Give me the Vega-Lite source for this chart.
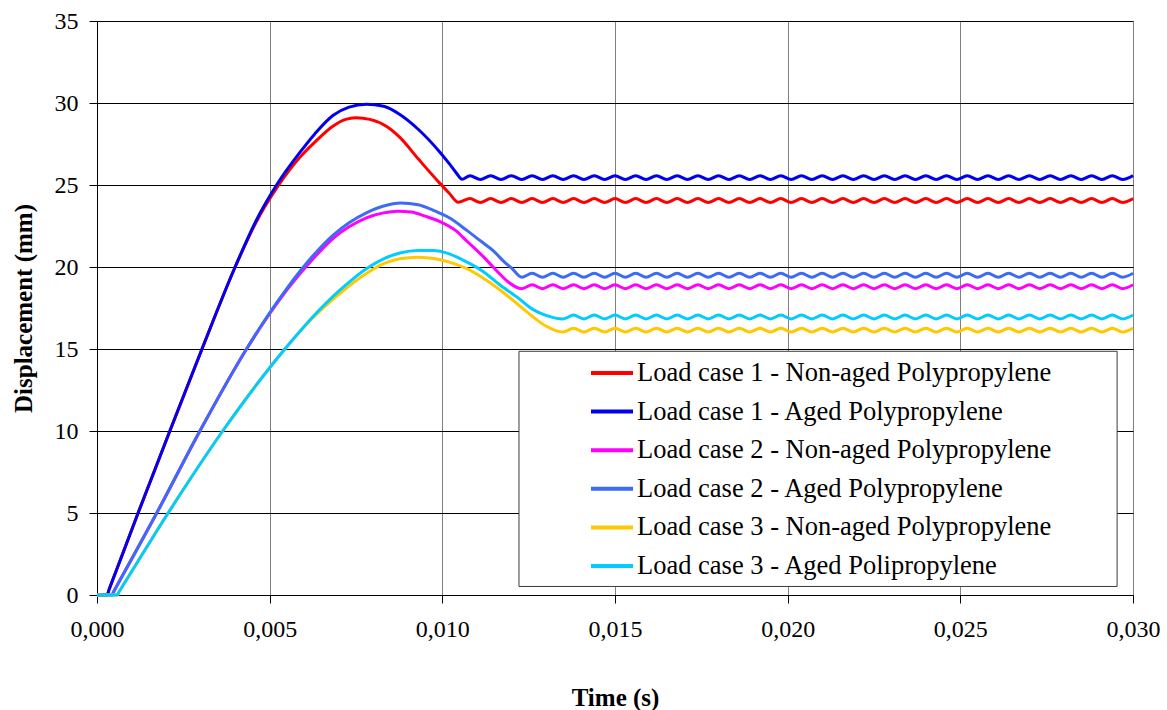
{
"$schema": "https://vega.github.io/schema/vega-lite/v6.json",
"width": 1036,
"height": 574,
"autosize": {"type": "none"},
"padding": {"left": 97, "top": 21, "right": 34, "bottom": 115},
"background": "white",
"config": {"view": {"stroke": null}, "font": "Liberation Serif"},
"layer": [
{
"data": {"values": [
{"s":"1N","t":0,"d":0},{"s":"1N","t":0.00029,"d":0},{"s":"1N","t":0.00035,"d":0.33},{"s":"1N","t":0.00119,"d":5},{"s":"1N","t":0.00211,"d":10},{"s":"1N","t":0.00304,"d":15},{"s":"1N","t":0.004,"d":20},{"s":"1N","t":0.0046,"d":22.7},{"s":"1N","t":0.0052,"d":24.8},{"s":"1N","t":0.00588,"d":26.7},{"s":"1N","t":0.0063,"d":27.6},{"s":"1N","t":0.00684,"d":28.6},{"s":"1N","t":0.0072,"d":29.0},{"s":"1N","t":0.0075,"d":29.1},{"s":"1N","t":0.0079,"d":29.0},{"s":"1N","t":0.0084,"d":28.55},{"s":"1N","t":0.00877,"d":27.9},{"s":"1N","t":0.0093,"d":26.6},{"s":"1N","t":0.00993,"d":25.1},{"s":"1N","t":0.0102,"d":24.5},{"s":"1N","t":0.01046,"d":23.95},
{"s":"1N","t":0.0108,"d":24.17},{"s":"1N","t":0.0111,"d":23.93},{"s":"1N","t":0.0114,"d":24.17},{"s":"1N","t":0.0117,"d":23.93},{"s":"1N","t":0.012,"d":24.17},{"s":"1N","t":0.0123,"d":23.93},{"s":"1N","t":0.0126,"d":24.17},{"s":"1N","t":0.0129,"d":23.93},{"s":"1N","t":0.0132,"d":24.17},{"s":"1N","t":0.0135,"d":23.93},{"s":"1N","t":0.0138,"d":24.17},{"s":"1N","t":0.0141,"d":23.93},{"s":"1N","t":0.0144,"d":24.17},{"s":"1N","t":0.0147,"d":23.93},{"s":"1N","t":0.015,"d":24.17},{"s":"1N","t":0.0153,"d":23.93},{"s":"1N","t":0.0156,"d":24.17},{"s":"1N","t":0.0159,"d":23.93},{"s":"1N","t":0.0162,"d":24.17},{"s":"1N","t":0.0165,"d":23.93},{"s":"1N","t":0.0168,"d":24.17},{"s":"1N","t":0.0171,"d":23.93},{"s":"1N","t":0.0174,"d":24.17},{"s":"1N","t":0.0177,"d":23.93},{"s":"1N","t":0.018,"d":24.17},{"s":"1N","t":0.0183,"d":23.93},{"s":"1N","t":0.0186,"d":24.17},{"s":"1N","t":0.0189,"d":23.93},{"s":"1N","t":0.0192,"d":24.17},{"s":"1N","t":0.0195,"d":23.93},{"s":"1N","t":0.0198,"d":24.17},{"s":"1N","t":0.0201,"d":23.93},{"s":"1N","t":0.0204,"d":24.17},{"s":"1N","t":0.0207,"d":23.93},{"s":"1N","t":0.021,"d":24.17},{"s":"1N","t":0.0213,"d":23.93},{"s":"1N","t":0.0216,"d":24.17},{"s":"1N","t":0.0219,"d":23.93},{"s":"1N","t":0.0222,"d":24.17},{"s":"1N","t":0.0225,"d":23.93},{"s":"1N","t":0.0228,"d":24.17},{"s":"1N","t":0.0231,"d":23.93},{"s":"1N","t":0.0234,"d":24.17},{"s":"1N","t":0.0237,"d":23.93},{"s":"1N","t":0.024,"d":24.17},{"s":"1N","t":0.0243,"d":23.93},{"s":"1N","t":0.0246,"d":24.17},{"s":"1N","t":0.0249,"d":23.93},{"s":"1N","t":0.0252,"d":24.17},{"s":"1N","t":0.0255,"d":23.93},{"s":"1N","t":0.0258,"d":24.17},{"s":"1N","t":0.0261,"d":23.93},{"s":"1N","t":0.0264,"d":24.17},{"s":"1N","t":0.0267,"d":23.93},{"s":"1N","t":0.027,"d":24.17},{"s":"1N","t":0.0273,"d":23.93},{"s":"1N","t":0.0276,"d":24.17},{"s":"1N","t":0.0279,"d":23.93},{"s":"1N","t":0.0282,"d":24.17},{"s":"1N","t":0.0285,"d":23.93},{"s":"1N","t":0.0288,"d":24.17},{"s":"1N","t":0.0291,"d":23.93},{"s":"1N","t":0.0294,"d":24.17},{"s":"1N","t":0.0297,"d":23.93},{"s":"1N","t":0.03,"d":24.17},
{"s":"1A","t":0,"d":0},{"s":"1A","t":0.00029,"d":0},{"s":"1A","t":0.00035,"d":0.33},{"s":"1A","t":0.00119,"d":5},{"s":"1A","t":0.00211,"d":10},{"s":"1A","t":0.00304,"d":15},{"s":"1A","t":0.004,"d":20},{"s":"1A","t":0.0046,"d":22.8},{"s":"1A","t":0.0052,"d":25.0},{"s":"1A","t":0.00588,"d":27.0},{"s":"1A","t":0.0063,"d":28.1},{"s":"1A","t":0.00684,"d":29.25},{"s":"1A","t":0.0073,"d":29.75},{"s":"1A","t":0.0078,"d":29.92},{"s":"1A","t":0.0083,"d":29.8},{"s":"1A","t":0.00877,"d":29.3},{"s":"1A","t":0.0093,"d":28.4},{"s":"1A","t":0.00993,"d":27.0},{"s":"1A","t":0.0102,"d":26.3},{"s":"1A","t":0.0104,"d":25.75},{"s":"1A","t":0.01057,"d":25.35},
{"s":"1A","t":0.0108,"d":25.57},{"s":"1A","t":0.0111,"d":25.33},{"s":"1A","t":0.0114,"d":25.57},{"s":"1A","t":0.0117,"d":25.33},{"s":"1A","t":0.012,"d":25.57},{"s":"1A","t":0.0123,"d":25.33},{"s":"1A","t":0.0126,"d":25.57},{"s":"1A","t":0.0129,"d":25.33},{"s":"1A","t":0.0132,"d":25.57},{"s":"1A","t":0.0135,"d":25.33},{"s":"1A","t":0.0138,"d":25.57},{"s":"1A","t":0.0141,"d":25.33},{"s":"1A","t":0.0144,"d":25.57},{"s":"1A","t":0.0147,"d":25.33},{"s":"1A","t":0.015,"d":25.57},{"s":"1A","t":0.0153,"d":25.33},{"s":"1A","t":0.0156,"d":25.57},{"s":"1A","t":0.0159,"d":25.33},{"s":"1A","t":0.0162,"d":25.57},{"s":"1A","t":0.0165,"d":25.33},{"s":"1A","t":0.0168,"d":25.57},{"s":"1A","t":0.0171,"d":25.33},{"s":"1A","t":0.0174,"d":25.57},{"s":"1A","t":0.0177,"d":25.33},{"s":"1A","t":0.018,"d":25.57},{"s":"1A","t":0.0183,"d":25.33},{"s":"1A","t":0.0186,"d":25.57},{"s":"1A","t":0.0189,"d":25.33},{"s":"1A","t":0.0192,"d":25.57},{"s":"1A","t":0.0195,"d":25.33},{"s":"1A","t":0.0198,"d":25.57},{"s":"1A","t":0.0201,"d":25.33},{"s":"1A","t":0.0204,"d":25.57},{"s":"1A","t":0.0207,"d":25.33},{"s":"1A","t":0.021,"d":25.57},{"s":"1A","t":0.0213,"d":25.33},{"s":"1A","t":0.0216,"d":25.57},{"s":"1A","t":0.0219,"d":25.33},{"s":"1A","t":0.0222,"d":25.57},{"s":"1A","t":0.0225,"d":25.33},{"s":"1A","t":0.0228,"d":25.57},{"s":"1A","t":0.0231,"d":25.33},{"s":"1A","t":0.0234,"d":25.57},{"s":"1A","t":0.0237,"d":25.33},{"s":"1A","t":0.024,"d":25.57},{"s":"1A","t":0.0243,"d":25.33},{"s":"1A","t":0.0246,"d":25.57},{"s":"1A","t":0.0249,"d":25.33},{"s":"1A","t":0.0252,"d":25.57},{"s":"1A","t":0.0255,"d":25.33},{"s":"1A","t":0.0258,"d":25.57},{"s":"1A","t":0.0261,"d":25.33},{"s":"1A","t":0.0264,"d":25.57},{"s":"1A","t":0.0267,"d":25.33},{"s":"1A","t":0.027,"d":25.57},{"s":"1A","t":0.0273,"d":25.33},{"s":"1A","t":0.0276,"d":25.57},{"s":"1A","t":0.0279,"d":25.33},{"s":"1A","t":0.0282,"d":25.57},{"s":"1A","t":0.0285,"d":25.33},{"s":"1A","t":0.0288,"d":25.57},{"s":"1A","t":0.0291,"d":25.33},{"s":"1A","t":0.0294,"d":25.57},{"s":"1A","t":0.0297,"d":25.33},{"s":"1A","t":0.03,"d":25.57},
{"s":"2N","t":0,"d":0},{"s":"2N","t":0.00043,"d":0},{"s":"2N","t":0.00049,"d":0.23},{"s":"2N","t":0.00173,"d":5},{"s":"2N","t":0.00298,"d":10},{"s":"2N","t":0.00433,"d":15},{"s":"2N","t":0.005,"d":17.15},{"s":"2N","t":0.0055,"d":18.6},{"s":"2N","t":0.0059,"d":19.65},{"s":"2N","t":0.0063,"d":20.6},{"s":"2N","t":0.00684,"d":21.75},{"s":"2N","t":0.0073,"d":22.45},{"s":"2N","t":0.0078,"d":23.0},{"s":"2N","t":0.0083,"d":23.3},{"s":"2N","t":0.0087,"d":23.4},{"s":"2N","t":0.0091,"d":23.35},{"s":"2N","t":0.0095,"d":23.1},{"s":"2N","t":0.0099,"d":22.8},{"s":"2N","t":0.0104,"d":22.2},{"s":"2N","t":0.0107,"d":21.6},{"s":"2N","t":0.0112,"d":20.6},{"s":"2N","t":0.01147,"d":20.0},{"s":"2N","t":0.0117,"d":19.5},{"s":"2N","t":0.0119,"d":19.1},
{"s":"2N","t":0.0123,"d":18.68},{"s":"2N","t":0.0126,"d":18.92},{"s":"2N","t":0.0129,"d":18.68},{"s":"2N","t":0.0132,"d":18.92},{"s":"2N","t":0.0135,"d":18.68},{"s":"2N","t":0.0138,"d":18.92},{"s":"2N","t":0.0141,"d":18.68},{"s":"2N","t":0.0144,"d":18.92},{"s":"2N","t":0.0147,"d":18.68},{"s":"2N","t":0.015,"d":18.92},{"s":"2N","t":0.0153,"d":18.68},{"s":"2N","t":0.0156,"d":18.92},{"s":"2N","t":0.0159,"d":18.68},{"s":"2N","t":0.0162,"d":18.92},{"s":"2N","t":0.0165,"d":18.68},{"s":"2N","t":0.0168,"d":18.92},{"s":"2N","t":0.0171,"d":18.68},{"s":"2N","t":0.0174,"d":18.92},{"s":"2N","t":0.0177,"d":18.68},{"s":"2N","t":0.018,"d":18.92},{"s":"2N","t":0.0183,"d":18.68},{"s":"2N","t":0.0186,"d":18.92},{"s":"2N","t":0.0189,"d":18.68},{"s":"2N","t":0.0192,"d":18.92},{"s":"2N","t":0.0195,"d":18.68},{"s":"2N","t":0.0198,"d":18.92},{"s":"2N","t":0.0201,"d":18.68},{"s":"2N","t":0.0204,"d":18.92},{"s":"2N","t":0.0207,"d":18.68},{"s":"2N","t":0.021,"d":18.92},{"s":"2N","t":0.0213,"d":18.68},{"s":"2N","t":0.0216,"d":18.92},{"s":"2N","t":0.0219,"d":18.68},{"s":"2N","t":0.0222,"d":18.92},{"s":"2N","t":0.0225,"d":18.68},{"s":"2N","t":0.0228,"d":18.92},{"s":"2N","t":0.0231,"d":18.68},{"s":"2N","t":0.0234,"d":18.92},{"s":"2N","t":0.0237,"d":18.68},{"s":"2N","t":0.024,"d":18.92},{"s":"2N","t":0.0243,"d":18.68},{"s":"2N","t":0.0246,"d":18.92},{"s":"2N","t":0.0249,"d":18.68},{"s":"2N","t":0.0252,"d":18.92},{"s":"2N","t":0.0255,"d":18.68},{"s":"2N","t":0.0258,"d":18.92},{"s":"2N","t":0.0261,"d":18.68},{"s":"2N","t":0.0264,"d":18.92},{"s":"2N","t":0.0267,"d":18.68},{"s":"2N","t":0.027,"d":18.92},{"s":"2N","t":0.0273,"d":18.68},{"s":"2N","t":0.0276,"d":18.92},{"s":"2N","t":0.0279,"d":18.68},{"s":"2N","t":0.0282,"d":18.92},{"s":"2N","t":0.0285,"d":18.68},{"s":"2N","t":0.0288,"d":18.92},{"s":"2N","t":0.0291,"d":18.68},{"s":"2N","t":0.0294,"d":18.92},{"s":"2N","t":0.0297,"d":18.68},{"s":"2N","t":0.03,"d":18.92},
{"s":"2A","t":0,"d":0},{"s":"2A","t":0.00043,"d":0},{"s":"2A","t":0.00049,"d":0.23},{"s":"2A","t":0.00173,"d":5},{"s":"2A","t":0.00298,"d":10},{"s":"2A","t":0.00433,"d":15},{"s":"2A","t":0.005,"d":17.2},{"s":"2A","t":0.0055,"d":18.7},{"s":"2A","t":0.0059,"d":19.8},{"s":"2A","t":0.0063,"d":20.8},{"s":"2A","t":0.00684,"d":21.95},{"s":"2A","t":0.0073,"d":22.7},{"s":"2A","t":0.0078,"d":23.3},{"s":"2A","t":0.0083,"d":23.72},{"s":"2A","t":0.0088,"d":23.9},{"s":"2A","t":0.0093,"d":23.8},{"s":"2A","t":0.0098,"d":23.4},{"s":"2A","t":0.0102,"d":23.0},{"s":"2A","t":0.0107,"d":22.25},{"s":"2A","t":0.0111,"d":21.6},{"s":"2A","t":0.01147,"d":21.0},{"s":"2A","t":0.0118,"d":20.3},{"s":"2A","t":0.012,"d":19.95},
{"s":"2A","t":0.0123,"d":19.38},{"s":"2A","t":0.0126,"d":19.62},{"s":"2A","t":0.0129,"d":19.38},{"s":"2A","t":0.0132,"d":19.62},{"s":"2A","t":0.0135,"d":19.38},{"s":"2A","t":0.0138,"d":19.62},{"s":"2A","t":0.0141,"d":19.38},{"s":"2A","t":0.0144,"d":19.62},{"s":"2A","t":0.0147,"d":19.38},{"s":"2A","t":0.015,"d":19.62},{"s":"2A","t":0.0153,"d":19.38},{"s":"2A","t":0.0156,"d":19.62},{"s":"2A","t":0.0159,"d":19.38},{"s":"2A","t":0.0162,"d":19.62},{"s":"2A","t":0.0165,"d":19.38},{"s":"2A","t":0.0168,"d":19.62},{"s":"2A","t":0.0171,"d":19.38},{"s":"2A","t":0.0174,"d":19.62},{"s":"2A","t":0.0177,"d":19.38},{"s":"2A","t":0.018,"d":19.62},{"s":"2A","t":0.0183,"d":19.38},{"s":"2A","t":0.0186,"d":19.62},{"s":"2A","t":0.0189,"d":19.38},{"s":"2A","t":0.0192,"d":19.62},{"s":"2A","t":0.0195,"d":19.38},{"s":"2A","t":0.0198,"d":19.62},{"s":"2A","t":0.0201,"d":19.38},{"s":"2A","t":0.0204,"d":19.62},{"s":"2A","t":0.0207,"d":19.38},{"s":"2A","t":0.021,"d":19.62},{"s":"2A","t":0.0213,"d":19.38},{"s":"2A","t":0.0216,"d":19.62},{"s":"2A","t":0.0219,"d":19.38},{"s":"2A","t":0.0222,"d":19.62},{"s":"2A","t":0.0225,"d":19.38},{"s":"2A","t":0.0228,"d":19.62},{"s":"2A","t":0.0231,"d":19.38},{"s":"2A","t":0.0234,"d":19.62},{"s":"2A","t":0.0237,"d":19.38},{"s":"2A","t":0.024,"d":19.62},{"s":"2A","t":0.0243,"d":19.38},{"s":"2A","t":0.0246,"d":19.62},{"s":"2A","t":0.0249,"d":19.38},{"s":"2A","t":0.0252,"d":19.62},{"s":"2A","t":0.0255,"d":19.38},{"s":"2A","t":0.0258,"d":19.62},{"s":"2A","t":0.0261,"d":19.38},{"s":"2A","t":0.0264,"d":19.62},{"s":"2A","t":0.0267,"d":19.38},{"s":"2A","t":0.027,"d":19.62},{"s":"2A","t":0.0273,"d":19.38},{"s":"2A","t":0.0276,"d":19.62},{"s":"2A","t":0.0279,"d":19.38},{"s":"2A","t":0.0282,"d":19.62},{"s":"2A","t":0.0285,"d":19.38},{"s":"2A","t":0.0288,"d":19.62},{"s":"2A","t":0.0291,"d":19.38},{"s":"2A","t":0.0294,"d":19.62},{"s":"2A","t":0.0297,"d":19.38},{"s":"2A","t":0.03,"d":19.62},
{"s":"3N","t":0,"d":0},{"s":"3N","t":0.00058,"d":0},{"s":"3N","t":0.00064,"d":0.2},{"s":"3N","t":0.00206,"d":5},{"s":"3N","t":0.00364,"d":10},{"s":"3N","t":0.00544,"d":15},{"s":"3N","t":0.0062,"d":16.8},{"s":"3N","t":0.00704,"d":18.4},{"s":"3N","t":0.0078,"d":19.6},{"s":"3N","t":0.0083,"d":20.2},{"s":"3N","t":0.00877,"d":20.5},{"s":"3N","t":0.0093,"d":20.6},{"s":"3N","t":0.0098,"d":20.5},{"s":"3N","t":0.0102,"d":20.3},{"s":"3N","t":0.01071,"d":19.9},{"s":"3N","t":0.0112,"d":19.3},{"s":"3N","t":0.01167,"d":18.6},{"s":"3N","t":0.0122,"d":17.7},{"s":"3N","t":0.01263,"d":16.95},{"s":"3N","t":0.013,"d":16.4},
{"s":"3N","t":0.0135,"d":16.03},{"s":"3N","t":0.0138,"d":16.27},{"s":"3N","t":0.0141,"d":16.03},{"s":"3N","t":0.0144,"d":16.27},{"s":"3N","t":0.0147,"d":16.03},{"s":"3N","t":0.015,"d":16.27},{"s":"3N","t":0.0153,"d":16.03},{"s":"3N","t":0.0156,"d":16.27},{"s":"3N","t":0.0159,"d":16.03},{"s":"3N","t":0.0162,"d":16.27},{"s":"3N","t":0.0165,"d":16.03},{"s":"3N","t":0.0168,"d":16.27},{"s":"3N","t":0.0171,"d":16.03},{"s":"3N","t":0.0174,"d":16.27},{"s":"3N","t":0.0177,"d":16.03},{"s":"3N","t":0.018,"d":16.27},{"s":"3N","t":0.0183,"d":16.03},{"s":"3N","t":0.0186,"d":16.27},{"s":"3N","t":0.0189,"d":16.03},{"s":"3N","t":0.0192,"d":16.27},{"s":"3N","t":0.0195,"d":16.03},{"s":"3N","t":0.0198,"d":16.27},{"s":"3N","t":0.0201,"d":16.03},{"s":"3N","t":0.0204,"d":16.27},{"s":"3N","t":0.0207,"d":16.03},{"s":"3N","t":0.021,"d":16.27},{"s":"3N","t":0.0213,"d":16.03},{"s":"3N","t":0.0216,"d":16.27},{"s":"3N","t":0.0219,"d":16.03},{"s":"3N","t":0.0222,"d":16.27},{"s":"3N","t":0.0225,"d":16.03},{"s":"3N","t":0.0228,"d":16.27},{"s":"3N","t":0.0231,"d":16.03},{"s":"3N","t":0.0234,"d":16.27},{"s":"3N","t":0.0237,"d":16.03},{"s":"3N","t":0.024,"d":16.27},{"s":"3N","t":0.0243,"d":16.03},{"s":"3N","t":0.0246,"d":16.27},{"s":"3N","t":0.0249,"d":16.03},{"s":"3N","t":0.0252,"d":16.27},{"s":"3N","t":0.0255,"d":16.03},{"s":"3N","t":0.0258,"d":16.27},{"s":"3N","t":0.0261,"d":16.03},{"s":"3N","t":0.0264,"d":16.27},{"s":"3N","t":0.0267,"d":16.03},{"s":"3N","t":0.027,"d":16.27},{"s":"3N","t":0.0273,"d":16.03},{"s":"3N","t":0.0276,"d":16.27},{"s":"3N","t":0.0279,"d":16.03},{"s":"3N","t":0.0282,"d":16.27},{"s":"3N","t":0.0285,"d":16.03},{"s":"3N","t":0.0288,"d":16.27},{"s":"3N","t":0.0291,"d":16.03},{"s":"3N","t":0.0294,"d":16.27},{"s":"3N","t":0.0297,"d":16.03},{"s":"3N","t":0.03,"d":16.27},
{"s":"3A","t":0,"d":0},{"s":"3A","t":0.00058,"d":0},{"s":"3A","t":0.00064,"d":0.2},{"s":"3A","t":0.00206,"d":5},{"s":"3A","t":0.00364,"d":10},{"s":"3A","t":0.00544,"d":15},{"s":"3A","t":0.0062,"d":16.85},{"s":"3A","t":0.00704,"d":18.6},{"s":"3A","t":0.0078,"d":19.9},{"s":"3A","t":0.0083,"d":20.5},{"s":"3A","t":0.00877,"d":20.85},{"s":"3A","t":0.0093,"d":21.0},{"s":"3A","t":0.00973,"d":21.0},{"s":"3A","t":0.0102,"d":20.8},{"s":"3A","t":0.01071,"d":20.3},{"s":"3A","t":0.0112,"d":19.7},{"s":"3A","t":0.01167,"d":18.9},{"s":"3A","t":0.0122,"d":18.1},{"s":"3A","t":0.01263,"d":17.4},{"s":"3A","t":0.013,"d":17.05},
{"s":"3A","t":0.0135,"d":16.83},{"s":"3A","t":0.0138,"d":17.07},{"s":"3A","t":0.0141,"d":16.83},{"s":"3A","t":0.0144,"d":17.07},{"s":"3A","t":0.0147,"d":16.83},{"s":"3A","t":0.015,"d":17.07},{"s":"3A","t":0.0153,"d":16.83},{"s":"3A","t":0.0156,"d":17.07},{"s":"3A","t":0.0159,"d":16.83},{"s":"3A","t":0.0162,"d":17.07},{"s":"3A","t":0.0165,"d":16.83},{"s":"3A","t":0.0168,"d":17.07},{"s":"3A","t":0.0171,"d":16.83},{"s":"3A","t":0.0174,"d":17.07},{"s":"3A","t":0.0177,"d":16.83},{"s":"3A","t":0.018,"d":17.07},{"s":"3A","t":0.0183,"d":16.83},{"s":"3A","t":0.0186,"d":17.07},{"s":"3A","t":0.0189,"d":16.83},{"s":"3A","t":0.0192,"d":17.07},{"s":"3A","t":0.0195,"d":16.83},{"s":"3A","t":0.0198,"d":17.07},{"s":"3A","t":0.0201,"d":16.83},{"s":"3A","t":0.0204,"d":17.07},{"s":"3A","t":0.0207,"d":16.83},{"s":"3A","t":0.021,"d":17.07},{"s":"3A","t":0.0213,"d":16.83},{"s":"3A","t":0.0216,"d":17.07},{"s":"3A","t":0.0219,"d":16.83},{"s":"3A","t":0.0222,"d":17.07},{"s":"3A","t":0.0225,"d":16.83},{"s":"3A","t":0.0228,"d":17.07},{"s":"3A","t":0.0231,"d":16.83},{"s":"3A","t":0.0234,"d":17.07},{"s":"3A","t":0.0237,"d":16.83},{"s":"3A","t":0.024,"d":17.07},{"s":"3A","t":0.0243,"d":16.83},{"s":"3A","t":0.0246,"d":17.07},{"s":"3A","t":0.0249,"d":16.83},{"s":"3A","t":0.0252,"d":17.07},{"s":"3A","t":0.0255,"d":16.83},{"s":"3A","t":0.0258,"d":17.07},{"s":"3A","t":0.0261,"d":16.83},{"s":"3A","t":0.0264,"d":17.07},{"s":"3A","t":0.0267,"d":16.83},{"s":"3A","t":0.027,"d":17.07},{"s":"3A","t":0.0273,"d":16.83},{"s":"3A","t":0.0276,"d":17.07},{"s":"3A","t":0.0279,"d":16.83},{"s":"3A","t":0.0282,"d":17.07},{"s":"3A","t":0.0285,"d":16.83},{"s":"3A","t":0.0288,"d":17.07},{"s":"3A","t":0.0291,"d":16.83},{"s":"3A","t":0.0294,"d":17.07},{"s":"3A","t":0.0297,"d":16.83},{"s":"3A","t":0.03,"d":17.07}
]},
"mark": {"type": "line", "interpolate": "monotone", "strokeWidth": 3},
"encoding": {
"x": {"field": "t", "type": "quantitative",
 "scale": {"domain": [0, 0.03], "nice": false, "zero": false},
 "axis": {"title": "Time (s)", "values": [0, 0.005, 0.01, 0.015, 0.02, 0.025, 0.03],
  "labelExpr": "replace(format(datum.value, '.3f'), '.', ',')",
  "grid": true, "gridColor": "#808080", "gridOpacity": 1, "gridWidth": 1,
  "domainColor": "#000000", "tickColor": "#000000", "tickSize": 8,
  "labelFont": "Liberation Serif", "labelFontSize": 24, "labelColor": "#000000", "labelPadding": 14,
  "labelFlush": false, "labelOverlap": false,
  "titleFont": "Liberation Serif", "titleFontSize": 25, "titleFontWeight": "bold", "titleColor": "#000000", "titlePadding": 44}},
"y": {"field": "d", "type": "quantitative",
 "scale": {"domain": [0, 35], "nice": false},
 "axis": {"title": "Displacement (mm)", "values": [0, 5, 10, 15, 20, 25, 30, 35],
  "grid": true, "gridColor": "#000000", "gridOpacity": 1, "gridWidth": 1,
  "domainColor": "#000000", "tickColor": "#000000", "tickSize": 8,
  "labelFont": "Liberation Serif", "labelFontSize": 24, "labelColor": "#000000", "labelPadding": 11,
  "labelFlush": false, "labelOverlap": false,
  "titleFont": "Liberation Serif", "titleFontSize": 25, "titleFontWeight": "bold", "titleColor": "#000000", "titlePadding": 18}},
"color": {"field": "s", "type": "nominal",
 "scale": {"domain": ["1N", "1A", "2N", "2A", "3N", "3A"],
  "range": ["#FF0000", "#0000F0", "#FF00FF", "#3D6BF5", "#FFC800", "#00CCFF"]},
 "legend": {"orient": "none", "legendX": 492, "legendY": 329, "title": null,
  "symbolType": "stroke", "symbolSize": 1764, "symbolStrokeWidth": 4,
  "labelFont": "Liberation Serif", "labelFontSize": 26.5, "labelColor": "#000000", "labelOffset": 2, "labelLimit": 0,
  "rowPadding": 1.6, "padding": 0,
  "labelExpr": "datum.label == '1N' ? 'Load case 1 - Non-aged Polypropylene' : datum.label == '1A' ? 'Load case 1 - Aged Polypropylene' : datum.label == '2N' ? 'Load case 2 - Non-aged Polypropylene' : datum.label == '2A' ? 'Load case 2 - Aged Polypropylene' : datum.label == '3N' ? 'Load case 3 - Non-aged Polypropylene' : 'Load case 3 - Aged Polipropylene'"}}
}
},
{
"data": {"values": [{}]},
"mark": {"type": "rect", "fill": "#FFFFFF", "stroke": "#3C3C3C", "strokeWidth": 1},
"encoding": {
"x": {"datum": 0.01222, "type": "quantitative"},
"x2": {"datum": 0.02954},
"y": {"datum": 14.86, "type": "quantitative"},
"y2": {"datum": 0.52}
}
}
]
}
